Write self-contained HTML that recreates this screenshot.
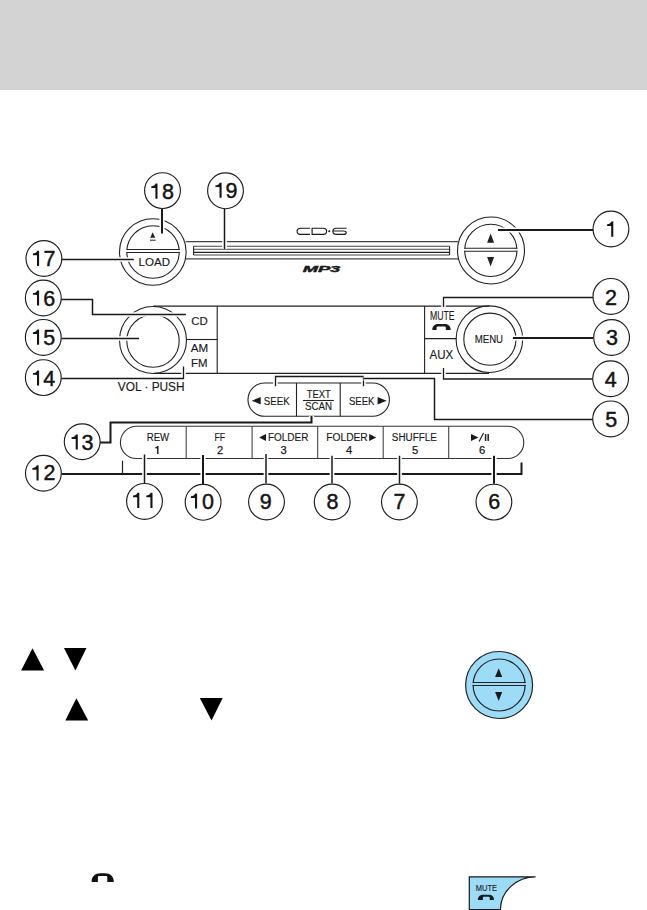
<!DOCTYPE html>
<html><head><meta charset="utf-8"><style>
html,body{margin:0;padding:0;background:#fff;width:647px;height:910px;overflow:hidden}
.hdr{position:absolute;left:0;top:0;width:647px;height:90px;background:#d3d3d3}
svg{position:absolute;left:0;top:0}
text{font-family:"Liberation Sans",sans-serif}
</style></head><body>
<div class="hdr"></div>
<svg width="647" height="910" viewBox="0 0 647 910">
<circle cx="152.8" cy="252" r="33.3" fill="none" stroke="#222" stroke-width="1.1"/>
<circle cx="153" cy="252" r="26.2" fill="none" stroke="#222" stroke-width="1.1"/>
<rect x="125" y="250.1" width="57" height="1.8" fill="#fff"/>
<path d="M126.8 249.5 L179.6 249.5" fill="none" stroke="#222" stroke-width="1.05"/>
<path d="M126.8 252.5 L179.6 252.5" fill="none" stroke="#222" stroke-width="1.05"/>
<path d="M150.2 237.8 L152.7 232.3 L155.2 237.8 Z" fill="#222"/>
<path d="M150 240.2 L155.6 240.2" fill="none" stroke="#222" stroke-width="1"/>
<text x="154.25" y="265.6" font-size="11.8" text-anchor="middle" font-weight="normal" fill="#1a1a1a" textLength="31.5" lengthAdjust="spacingAndGlyphs"  stroke="#1a1a1a" stroke-width="0.15">LOAD</text>
<path d="M185.8 241.6 L458 241.6" fill="none" stroke="#444" stroke-width="1.1"/>
<path d="M185.8 258.9 L458 258.9" fill="none" stroke="#444" stroke-width="1.1"/>
<path d="M193.6 246.3 L449.6 246.3" fill="none" stroke="#444" stroke-width="1.1"/>
<path d="M193.6 249.3 L449.6 249.3" fill="none" stroke="#444" stroke-width="1.1"/>
<path d="M193.6 252.4 L449.6 252.4" fill="none" stroke="#222" stroke-width="1.3"/>
<path d="M193.6 255 L449.6 255" fill="none" stroke="#444" stroke-width="1.1"/>
<path d="M193.6 246.3 L193.6 255" fill="none" stroke="#222" stroke-width="1.1"/>
<path d="M449.6 246.3 L449.6 255" fill="none" stroke="#222" stroke-width="1.1"/>
<path d="M309.9 228.2 L300.4 228.2 C298.1 228.2 297.1 229.6 297.1 231.3 C297.1 233 298.1 234.4 300.4 234.4 L309.9 234.4" fill="none" stroke="#1a1a1a" stroke-width="1.15"/>
<path d="M312.1 228.2 L323.3 228.2 C325.6 228.2 326.6 229.6 326.6 231.3 C326.6 233 325.6 234.4 323.3 234.4 L312.1 234.4 Z" fill="none" stroke="#1a1a1a" stroke-width="1.15"/>
<circle cx="329.2" cy="231.3" r="1" fill="#1a1a1a"/>
<path d="M346.6 228.2 L336.2 228.2 C333.9 228.2 332.9 229.6 332.9 231.3 C332.9 233 333.9 234.4 336.2 234.4 L343.4 234.4 C345.4 234.4 346.2 233.6 346.2 232.7 C346.2 231.8 345.4 231 343.4 231 L333.2 231" fill="none" stroke="#1a1a1a" stroke-width="1.15"/>
<text x="321.5" y="271.6" font-size="8.6" text-anchor="middle" font-weight="bold" fill="#1a1a1a" textLength="37.6" lengthAdjust="spacingAndGlyphs" font-style="italic" stroke="#1a1a1a" stroke-width="0.4">MP3</text>
<circle cx="491" cy="250.5" r="33.5" fill="none" stroke="#222" stroke-width="1.1"/>
<circle cx="490.8" cy="250.4" r="26.1" fill="none" stroke="#222" stroke-width="1.1"/>
<rect x="462" y="248.9" width="58" height="1.8" fill="#fff"/>
<path d="M464.5 248.3 L517.3 248.3" fill="none" stroke="#222" stroke-width="1.1"/>
<path d="M464.5 251.3 L517.3 251.3" fill="none" stroke="#222" stroke-width="1.1"/>
<path d="M487.1 242.8 L490.6 233.5 L494.1 242.8 Z" fill="#222"/>
<path d="M487.1 257.1 L490.6 266.4 L494.1 257.1 Z" fill="#222"/>
<circle cx="153" cy="340" r="33.5" fill="none" stroke="#222" stroke-width="1.1"/>
<circle cx="153" cy="341" r="26.2" fill="none" stroke="#222" stroke-width="1.1"/>
<path d="M153.2 306.1 L489.2 306.1" fill="none" stroke="#222" stroke-width="1.1"/>
<path d="M154 373.4 L489 373.4" fill="none" stroke="#222" stroke-width="1.1"/>
<path d="M217.2 306.1 L217.2 373.4" fill="none" stroke="#222" stroke-width="1.1"/>
<path d="M186.3 339.5 L217.2 339.5" fill="none" stroke="#222" stroke-width="1.1"/>
<path d="M424.6 306.1 L424.6 373.4" fill="none" stroke="#222" stroke-width="1.1"/>
<path d="M424.6 338.6 L456.7 338.6" fill="none" stroke="#222" stroke-width="1.1"/>
<text x="199.45" y="325.2" font-size="11.6" text-anchor="middle" font-weight="normal" fill="#1a1a1a" textLength="16.5" lengthAdjust="spacingAndGlyphs"  stroke="#1a1a1a" stroke-width="0.15">CD</text>
<text x="199.5" y="352.4" font-size="11.6" text-anchor="middle" font-weight="normal" fill="#1a1a1a" textLength="17.4" lengthAdjust="spacingAndGlyphs"  stroke="#1a1a1a" stroke-width="0.15">AM</text>
<text x="199.3" y="366.6" font-size="11.6" text-anchor="middle" font-weight="normal" fill="#1a1a1a" textLength="16.5" lengthAdjust="spacingAndGlyphs"  stroke="#1a1a1a" stroke-width="0.15">FM</text>
<text x="151.2" y="390.7" font-size="12" text-anchor="middle" font-weight="normal" fill="#1a1a1a" textLength="66.8" lengthAdjust="spacingAndGlyphs"  stroke="#1a1a1a" stroke-width="0.15">VOL &#183; PUSH</text>
<circle cx="489.4" cy="339.2" r="33.3" fill="none" stroke="#222" stroke-width="1.1"/>
<circle cx="489.9" cy="339.2" r="26.1" fill="none" stroke="#222" stroke-width="1.1"/>
<text x="488.9" y="342.5" font-size="10.8" text-anchor="middle" font-weight="normal" fill="#1a1a1a" textLength="28.4" lengthAdjust="spacingAndGlyphs"  stroke="#1a1a1a" stroke-width="0.15">MENU</text>
<text x="442.2" y="319.6" font-size="12.4" text-anchor="middle" font-weight="normal" fill="#1a1a1a" textLength="24.6" lengthAdjust="spacingAndGlyphs"  stroke="#1a1a1a" stroke-width="0.15">MUTE</text>
<path d="M432.3 329.9 C432.3 326.4 434.5 323.9 438 323.9 L445 323.9 C448.5 323.9 450.7 326.4 450.7 329.9 L445.8 329.9 L445.8 327.2 C445.8 326.7 445.4 326.4 444.8 326.4 L437.6 326.4 C437 326.4 436.6 326.7 436.6 327.2 L436.6 329.9 Z" fill="#1a1a1a"/>
<text x="441.4" y="358.5" font-size="11.9" text-anchor="middle" font-weight="normal" fill="#1a1a1a" textLength="23.8" lengthAdjust="spacingAndGlyphs"  stroke="#1a1a1a" stroke-width="0.15">AUX</text>
<path d="M264.6 383 L372.8 383 A16.65 16.65 0 0 1 372.8 416.3 L264.6 416.3 A16.65 16.65 0 0 1 264.6 383 Z" fill="none" stroke="#222" stroke-width="1.1"/>
<path d="M296.5 383 L296.5 416.3" fill="none" stroke="#222" stroke-width="1.1"/>
<path d="M340.2 383 L340.2 416.3" fill="none" stroke="#222" stroke-width="1.1"/>
<path d="M251.8 400.7 L260.7 397 L260.7 404.4 Z" fill="#1a1a1a"/>
<text x="276.7" y="404.5" font-size="11.2" text-anchor="middle" font-weight="normal" fill="#1a1a1a" textLength="25.8" lengthAdjust="spacingAndGlyphs"  stroke="#1a1a1a" stroke-width="0.15">SEEK</text>
<text x="361.75" y="404.5" font-size="11.2" text-anchor="middle" font-weight="normal" fill="#1a1a1a" textLength="25.5" lengthAdjust="spacingAndGlyphs"  stroke="#1a1a1a" stroke-width="0.15">SEEK</text>
<path d="M386.6 400.7 L377.6 397 L377.6 404.4 Z" fill="#1a1a1a"/>
<text x="318.8" y="397.9" font-size="10.4" text-anchor="middle" font-weight="normal" fill="#1a1a1a" textLength="24" lengthAdjust="spacingAndGlyphs"  stroke="#1a1a1a" stroke-width="0.15">TEXT</text>
<path d="M303 400.5 L333.9 400.5" fill="none" stroke="#222" stroke-width="1.1"/>
<text x="318.6" y="409.8" font-size="10.4" text-anchor="middle" font-weight="normal" fill="#1a1a1a" textLength="27" lengthAdjust="spacingAndGlyphs"  stroke="#1a1a1a" stroke-width="0.15">SCAN</text>
<path d="M136.5 426.3 L507.7 426.3 A16.1 16.1 0 0 1 507.7 458.5 L136.5 458.5 A16.1 16.1 0 0 1 136.5 426.3 Z" fill="none" stroke="#333" stroke-width="1.1"/>
<path d="M186.2 426.3 L186.2 458.5" fill="none" stroke="#444" stroke-width="1.1"/>
<path d="M252.1 426.3 L252.1 458.5" fill="none" stroke="#444" stroke-width="1.1"/>
<path d="M317.7 426.3 L317.7 458.5" fill="none" stroke="#444" stroke-width="1.1"/>
<path d="M383.2 426.3 L383.2 458.5" fill="none" stroke="#444" stroke-width="1.1"/>
<path d="M448.7 426.3 L448.7 458.5" fill="none" stroke="#444" stroke-width="1.1"/>
<text x="157.95" y="440.6" font-size="10.0" text-anchor="middle" font-weight="normal" fill="#1a1a1a" textLength="22.5" lengthAdjust="spacingAndGlyphs"  stroke="#1a1a1a" stroke-width="0.15">REW</text>
<path d="M158.52 454.10 L157.11 454.10 L157.11 448.38 C156.25 448.38 155.44 448.38 154.90 448.32 L154.90 447.40 C156.09 447.35 156.95 446.86 157.22 445.95 L158.52 445.95 Z" fill="#1a1a1a"/>
<text x="219.75" y="440.5" font-size="10.0" text-anchor="middle" font-weight="normal" fill="#1a1a1a" textLength="10.7" lengthAdjust="spacingAndGlyphs"  stroke="#1a1a1a" stroke-width="0.15">FF</text>
<text x="220.1" y="454.1" font-size="11.2" text-anchor="middle" font-weight="normal" fill="#1a1a1a" stroke='#1a1a1a' stroke-width='0.25'>2</text>
<path d="M259.1 437.4 L266 433.9 L266 440.9 Z" fill="#1a1a1a"/>
<text x="288.2" y="440.6" font-size="10.0" text-anchor="middle" font-weight="normal" fill="#1a1a1a" textLength="40.5" lengthAdjust="spacingAndGlyphs"  stroke="#1a1a1a" stroke-width="0.15">FOLDER</text>
<text x="283.7" y="454.1" font-size="11.2" text-anchor="middle" font-weight="normal" fill="#1a1a1a" stroke='#1a1a1a' stroke-width='0.25'>3</text>
<text x="347" y="440.6" font-size="10.0" text-anchor="middle" font-weight="normal" fill="#1a1a1a" textLength="41.5" lengthAdjust="spacingAndGlyphs"  stroke="#1a1a1a" stroke-width="0.15">FOLDER</text>
<path d="M376.2 437.4 L369.2 433.9 L369.2 440.9 Z" fill="#1a1a1a"/>
<text x="349" y="454.1" font-size="11.2" text-anchor="middle" font-weight="normal" fill="#1a1a1a" stroke='#1a1a1a' stroke-width='0.25'>4</text>
<text x="414.3" y="440.6" font-size="10.0" text-anchor="middle" font-weight="normal" fill="#1a1a1a" textLength="44.9" lengthAdjust="spacingAndGlyphs"  stroke="#1a1a1a" stroke-width="0.15">SHUFFLE</text>
<text x="415.2" y="454.1" font-size="11.2" text-anchor="middle" font-weight="normal" fill="#1a1a1a" stroke='#1a1a1a' stroke-width='0.25'>5</text>
<path d="M471 433.9 L478.4 437.5 L471 441.1 Z" fill="#1a1a1a"/>
<path d="M479.1 441.6 L483.5 433" fill="none" stroke="#222" stroke-width="1.2"/>
<path d="M485.6 434 L485.6 441" fill="none" stroke="#222" stroke-width="1.5"/>
<path d="M488.2 434 L488.2 441" fill="none" stroke="#222" stroke-width="1.5"/>
<text x="482.1" y="454.1" font-size="11.2" text-anchor="middle" font-weight="normal" fill="#1a1a1a" stroke='#1a1a1a' stroke-width='0.25'>6</text>
<path d="M162 209 L162 233.5" fill="none" stroke="#fff" stroke-width="5.2" stroke-linecap="butt"/>
<path d="M162 209 L162 233.5" fill="none" stroke="#1a1a1a" stroke-width="2"/>
<path d="M224.5 209 L224.5 249" fill="none" stroke="#fff" stroke-width="4.7" stroke-linecap="butt"/>
<path d="M224.5 209 L224.5 249" fill="none" stroke="#1a1a1a" stroke-width="1.5"/>
<path d="M61.3 259.5 L133.8 259.5" fill="none" stroke="#fff" stroke-width="4.5" stroke-linecap="butt"/>
<path d="M61.3 259.5 L133.8 259.5" fill="none" stroke="#1a1a1a" stroke-width="1.3"/>
<path d="M61.3 299.5 L92.5 299.5 L92.5 314.5 L185.9 314.5" fill="none" stroke="#fff" stroke-width="4.7" stroke-linecap="butt"/>
<path d="M61.3 299.5 L92.5 299.5 L92.5 314.5 L185.9 314.5" fill="none" stroke="#1a1a1a" stroke-width="1.5"/>
<path d="M61.3 338.5 L139 338.5" fill="none" stroke="#fff" stroke-width="4.5" stroke-linecap="butt"/>
<path d="M61.3 338.5 L139 338.5" fill="none" stroke="#1a1a1a" stroke-width="1.3"/>
<path d="M61.3 378.5 L183.5 378.5 L183.5 366.6" fill="none" stroke="#fff" stroke-width="4.5" stroke-linecap="butt"/>
<path d="M61.3 378.5 L183.5 378.5 L183.5 366.6" fill="none" stroke="#1a1a1a" stroke-width="1.3"/>
<path d="M100 442.5 L110.5 442.5 L110.5 422.5 L311.5 422.5 L311.5 416" fill="none" stroke="#fff" stroke-width="5.2" stroke-linecap="butt"/>
<path d="M100 442.5 L110.5 442.5 L110.5 422.5 L311.5 422.5 L311.5 416" fill="none" stroke="#1a1a1a" stroke-width="2"/>
<path d="M61.7 474 L521.5 474 L521.5 462.5" fill="none" stroke="#fff" stroke-width="5.2" stroke-linecap="butt"/>
<path d="M61.7 474 L521.5 474 L521.5 462.5" fill="none" stroke="#1a1a1a" stroke-width="2"/>
<path d="M122.5 460.7 L122.5 474" fill="none" stroke="#222" stroke-width="1.2"/>
<path d="M144.5 454.5 L144.5 483.5" fill="none" stroke="#fff" stroke-width="4.7" stroke-linecap="butt"/>
<path d="M144.5 454.5 L144.5 483.5" fill="none" stroke="#1a1a1a" stroke-width="1.5"/>
<path d="M203 455 L203 484.3" fill="none" stroke="#fff" stroke-width="5.2" stroke-linecap="butt"/>
<path d="M203 455 L203 484.3" fill="none" stroke="#1a1a1a" stroke-width="2"/>
<path d="M266 454 L266 483.5" fill="none" stroke="#fff" stroke-width="4.7" stroke-linecap="butt"/>
<path d="M266 454 L266 483.5" fill="none" stroke="#1a1a1a" stroke-width="1.5"/>
<path d="M332 455.8 L332 483.5" fill="none" stroke="#fff" stroke-width="4.7" stroke-linecap="butt"/>
<path d="M332 455.8 L332 483.5" fill="none" stroke="#1a1a1a" stroke-width="1.5"/>
<path d="M399.5 455.7 L399.5 483.7" fill="none" stroke="#fff" stroke-width="4.7" stroke-linecap="butt"/>
<path d="M399.5 455.7 L399.5 483.7" fill="none" stroke="#1a1a1a" stroke-width="1.5"/>
<path d="M494 455.7 L494 483.7" fill="none" stroke="#fff" stroke-width="5.2" stroke-linecap="butt"/>
<path d="M494 455.7 L494 483.7" fill="none" stroke="#1a1a1a" stroke-width="2"/>
<path d="M498 230 L593 230" fill="none" stroke="#fff" stroke-width="5.2" stroke-linecap="butt"/>
<path d="M498 230 L593 230" fill="none" stroke="#1a1a1a" stroke-width="2"/>
<path d="M443.5 307 L443.5 297.5 L593 297.5" fill="none" stroke="#fff" stroke-width="4.5" stroke-linecap="butt"/>
<path d="M443.5 307 L443.5 297.5 L593 297.5" fill="none" stroke="#1a1a1a" stroke-width="1.3"/>
<path d="M512.9 338 L593 338" fill="none" stroke="#fff" stroke-width="5.2" stroke-linecap="butt"/>
<path d="M512.9 338 L593 338" fill="none" stroke="#1a1a1a" stroke-width="2"/>
<path d="M443.5 367.9 L443.5 379 L593 379" fill="none" stroke="#fff" stroke-width="4.5" stroke-linecap="butt"/>
<path d="M443.5 367.9 L443.5 379 L593 379" fill="none" stroke="#1a1a1a" stroke-width="1.3"/>
<path d="M275.5 386.3 L275.5 376.5 L363.5 376.5 L363.5 386.3" fill="none" stroke="#fff" stroke-width="4.5" stroke-linecap="butt"/>
<path d="M275.5 386.3 L275.5 376.5 L363.5 376.5 L363.5 386.3" fill="none" stroke="#1a1a1a" stroke-width="1.3"/>
<path d="M363.5 378.5 L434.5 378.5 L434.5 419.5 L593 419.5" fill="none" stroke="#fff" stroke-width="4.7" stroke-linecap="butt"/>
<path d="M363.5 378.5 L434.5 378.5 L434.5 419.5 L593 419.5" fill="none" stroke="#1a1a1a" stroke-width="1.5"/>
<circle cx="162.5" cy="190.6" r="17.9" fill="#fff" stroke="#1e1e1e" stroke-width="1.15"/>
<path d="M157.50 198.70 L155.40 198.70 L155.40 188.10 C153.80 188.10 152.30 188.10 151.30 188.00 L151.30 186.30 C153.50 186.20 155.10 185.30 155.60 183.60 L157.50 183.60 Z" fill="#141414"/>
<text x="173.90" y="198.70" font-size="21.5" text-anchor="end" fill="#141414" stroke="#141414" stroke-width="0.45">8</text>
<circle cx="225.5" cy="190.8" r="17.9" fill="#fff" stroke="#1e1e1e" stroke-width="1.15"/>
<path d="M221.60 197.80 L219.50 197.80 L219.50 187.20 C217.90 187.20 216.40 187.20 215.40 187.10 L215.40 185.40 C217.60 185.30 219.20 184.40 219.70 182.70 L221.60 182.70 Z" fill="#141414"/>
<text x="237.40" y="197.80" font-size="21.5" text-anchor="end" fill="#141414" stroke="#141414" stroke-width="0.45">9</text>
<circle cx="43.9" cy="258.5" r="17.9" fill="#fff" stroke="#1e1e1e" stroke-width="1.15"/>
<path d="M39.10 265.90 L37.00 265.90 L37.00 255.30 C35.40 255.30 33.90 255.30 32.90 255.20 L32.90 253.50 C35.10 253.40 36.70 252.50 37.20 250.80 L39.10 250.80 Z" fill="#141414"/>
<text x="55.40" y="265.90" font-size="21.5" text-anchor="end" fill="#141414" stroke="#141414" stroke-width="0.45">7</text>
<circle cx="43.3" cy="298.0" r="17.9" fill="#fff" stroke="#1e1e1e" stroke-width="1.15"/>
<path d="M39.10 305.50 L37.00 305.50 L37.00 294.90 C35.40 294.90 33.90 294.90 32.90 294.80 L32.90 293.10 C35.10 293.00 36.70 292.10 37.20 290.40 L39.10 290.40 Z" fill="#141414"/>
<text x="55.10" y="305.50" font-size="21.5" text-anchor="end" fill="#141414" stroke="#141414" stroke-width="0.45">6</text>
<circle cx="43.3" cy="337.4" r="17.9" fill="#fff" stroke="#1e1e1e" stroke-width="1.15"/>
<path d="M39.10 344.70 L37.00 344.70 L37.00 334.10 C35.40 334.10 33.90 334.10 32.90 334.00 L32.90 332.30 C35.10 332.20 36.70 331.30 37.20 329.60 L39.10 329.60 Z" fill="#141414"/>
<text x="55.10" y="344.70" font-size="21.5" text-anchor="end" fill="#141414" stroke="#141414" stroke-width="0.45">5</text>
<circle cx="43.3" cy="377.6" r="17.9" fill="#fff" stroke="#1e1e1e" stroke-width="1.15"/>
<path d="M39.10 385.50 L37.00 385.50 L37.00 374.90 C35.40 374.90 33.90 374.90 32.90 374.80 L32.90 373.10 C35.10 373.00 36.70 372.10 37.20 370.40 L39.10 370.40 Z" fill="#141414"/>
<text x="55.30" y="385.50" font-size="21.5" text-anchor="end" fill="#141414" stroke="#141414" stroke-width="0.45">4</text>
<circle cx="82.2" cy="441.7" r="17.9" fill="#fff" stroke="#1e1e1e" stroke-width="1.15"/>
<path d="M77.80 449.60 L75.70 449.60 L75.70 439.00 C74.10 439.00 72.60 439.00 71.60 438.90 L71.60 437.20 C73.80 437.10 75.40 436.20 75.90 434.50 L77.80 434.50 Z" fill="#141414"/>
<text x="93.40" y="449.60" font-size="21.5" text-anchor="end" fill="#141414" stroke="#141414" stroke-width="0.45">3</text>
<circle cx="43.4" cy="473.3" r="17.9" fill="#fff" stroke="#1e1e1e" stroke-width="1.15"/>
<path d="M38.60 480.40 L36.50 480.40 L36.50 469.80 C34.90 469.80 33.40 469.80 32.40 469.70 L32.40 468.00 C34.60 467.90 36.20 467.00 36.70 465.30 L38.60 465.30 Z" fill="#141414"/>
<text x="55.40" y="480.40" font-size="21.5" text-anchor="end" fill="#141414" stroke="#141414" stroke-width="0.45">2</text>
<circle cx="144.5" cy="501.4" r="17.9" fill="#fff" stroke="#1e1e1e" stroke-width="1.15"/>
<path d="M139.30 507.90 L137.20 507.90 L137.20 497.30 C135.60 497.30 134.10 497.30 133.10 497.20 L133.10 495.50 C135.30 495.40 136.90 494.50 137.40 492.80 L139.30 492.80 Z" fill="#141414"/>
<path d="M152.50 507.90 L150.40 507.90 L150.40 497.30 C148.80 497.30 147.30 497.30 146.30 497.20 L146.30 495.50 C148.50 495.40 150.10 494.50 150.60 492.80 L152.50 492.80 Z" fill="#141414"/>
<circle cx="203.1" cy="502.3" r="17.9" fill="#fff" stroke="#1e1e1e" stroke-width="1.15"/>
<path d="M197.10 508.60 L195.00 508.60 L195.00 498.00 C193.40 498.00 191.90 498.00 190.90 497.90 L190.90 496.20 C193.10 496.10 194.70 495.20 195.20 493.50 L197.10 493.50 Z" fill="#141414"/>
<text x="213.90" y="508.60" font-size="21.5" text-anchor="end" fill="#141414" stroke="#141414" stroke-width="0.45">0</text>
<circle cx="266.5" cy="502.0" r="17.9" fill="#fff" stroke="#1e1e1e" stroke-width="1.15"/>
<text x="265.80" y="508.70" font-size="21.5" text-anchor="middle" fill="#141414" stroke="#141414" stroke-width="0.45">9</text>
<circle cx="332.2" cy="502.0" r="17.9" fill="#fff" stroke="#1e1e1e" stroke-width="1.15"/>
<text x="332.60" y="508.70" font-size="21.5" text-anchor="middle" fill="#141414" stroke="#141414" stroke-width="0.45">8</text>
<circle cx="399.4" cy="502.0" r="17.9" fill="#fff" stroke="#1e1e1e" stroke-width="1.15"/>
<text x="399.50" y="508.70" font-size="21.5" text-anchor="middle" fill="#141414" stroke="#141414" stroke-width="0.45">7</text>
<circle cx="493.9" cy="502.1" r="17.9" fill="#fff" stroke="#1e1e1e" stroke-width="1.15"/>
<text x="494.35" y="509.40" font-size="21.5" text-anchor="middle" fill="#141414" stroke="#141414" stroke-width="0.45">6</text>
<circle cx="610.95" cy="229.0" r="17.9" fill="#fff" stroke="#1e1e1e" stroke-width="1.15"/>
<path d="M613.30 236.70 L611.20 236.70 L611.20 226.10 C609.60 226.10 608.10 226.10 607.10 226.00 L607.10 224.30 C609.30 224.20 610.90 223.30 611.40 221.60 L613.30 221.60 Z" fill="#141414"/>
<circle cx="610.9" cy="296.4" r="17.9" fill="#fff" stroke="#1e1e1e" stroke-width="1.15"/>
<text x="611.00" y="304.50" font-size="21.5" text-anchor="middle" fill="#141414" stroke="#141414" stroke-width="0.45">2</text>
<circle cx="611.6" cy="337.5" r="17.9" fill="#fff" stroke="#1e1e1e" stroke-width="1.15"/>
<text x="612.05" y="344.70" font-size="21.5" text-anchor="middle" fill="#141414" stroke="#141414" stroke-width="0.45">3</text>
<circle cx="610.6" cy="378.7" r="17.9" fill="#fff" stroke="#1e1e1e" stroke-width="1.15"/>
<text x="610.80" y="386.50" font-size="21.5" text-anchor="middle" fill="#141414" stroke="#141414" stroke-width="0.45">4</text>
<circle cx="610.65" cy="418.9" r="17.9" fill="#fff" stroke="#1e1e1e" stroke-width="1.15"/>
<text x="611.20" y="427.20" font-size="21.5" text-anchor="middle" fill="#141414" stroke="#141414" stroke-width="0.45">5</text>
<path d="M21.1 670.6 L32.5 648.3 L44.1 670.6 Z" fill="#000"/>
<path d="M64 648.1 L86.5 648.1 L75.4 670.6 Z" fill="#000"/>
<path d="M65.3 720.5 L76.4 698.2 L88.2 720.5 Z" fill="#000"/>
<path d="M199.8 697.9 L222.7 697.9 L211.5 720.5 Z" fill="#000"/>
<circle cx="499.1" cy="685" r="33.5" fill="#9cdcf6" stroke="#222" stroke-width="1.2"/>
<circle cx="499.1" cy="685" r="26" fill="#9cdcf6" stroke="#222" stroke-width="1.2"/>
<rect x="470" y="683.1" width="58" height="1.8" fill="#9cdcf6"/>
<path d="M472.8 682.5 L525.7 682.5" fill="none" stroke="#222" stroke-width="1.2"/>
<path d="M472.8 685.5 L525.7 685.5" fill="none" stroke="#222" stroke-width="1.2"/>
<path d="M495.1 677.1 L498.7 668.3 L502.2 677.1 Z" fill="#1a1a1a"/>
<path d="M495.1 692.1 L498.7 701 L502.2 692.1 Z" fill="#1a1a1a"/>
<path d="M469.3 909.5 L469.3 876.8 L535.6 876.8 A35.2 33.2 0 0 0 500.4 909.5 Z" fill="#9cdcf6" stroke="#1a1a1a" stroke-width="1.2"/>
<text x="486.45" y="890.9" font-size="9.7" text-anchor="middle" font-weight="normal" fill="#222" textLength="21.3" lengthAdjust="spacingAndGlyphs"  stroke="#222" stroke-width="0.15">MUTE</text>
<path d="M477.9 900 C477.9 897 479.8 894.8 482.8 894.8 L489.1 894.8 C492.1 894.8 494 897 494 900 L489.7 900 L489.7 897.6 C489.7 897 489.3 896.8 488.6 896.8 L484 896.8 C483.3 896.8 482.9 897 482.9 897.6 L482.9 900 Z" fill="#1a1a1a"/>
<path d="M91.6 881.9 C91.6 876.2 95.2 873.3 100.5 873.3 L104.9 873.3 C110.2 873.3 113.8 876.2 113.8 881.9 L107.3 881.9 L107.3 877.2 C107.3 876.4 106.8 876 106 876 L99.2 876 C98.4 876 97.9 876.4 97.9 877.2 L97.9 881.9 Z" fill="#111"/>
</svg>
</body></html>
